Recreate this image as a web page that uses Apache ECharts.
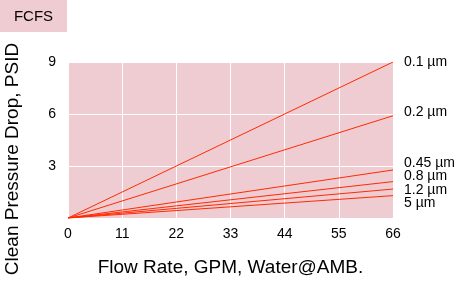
<!DOCTYPE html>
<html><head><meta charset="utf-8">
<script src="https://cdn.jsdelivr.net/npm/echarts@6/dist/echarts.min.js"></script>
<style>html,body{margin:0;padding:0;background:#fff}#c{width:459px;height:283px}</style>
</head><body><div id="c"></div>
<script>
const flowRates = [0, 66];
const seriesNames = ['0.1 µm', '0.2 µm', '0.45 µm', '0.8 µm', '1.2 µm', '5 µm'];
const s01 = [0, 9.0];
const s02 = [0, 5.9];
const s045 = [0, 2.77];
const s08 = [0, 2.1];
const s12 = [0, 1.67];
const s5 = [0, 1.29];
const xTicks = [0, 11, 22, 33, 44, 55, 66];
const yTicks = [3, 6, 9];
const allSeries = [s01, s02, s045, s08, s12, s5];
const labelShift = [0, -4, -7, -5, 1, 8];

const FONT = 'Liberation Sans';
const chart = echarts.init(document.getElementById('c'));
chart.setOption({
  animation: false,
  textStyle: {fontFamily: FONT},
  graphic: [
    {type: 'rect', x: 0, y: 0, shape: {width: 67, height: 32}, style: {fill: '#efccd1'}},
    {type: 'text', x: 33.5, y: 17,
     style: {text: 'FCFS', textAlign: 'center', textVerticalAlign: 'middle', fontSize: 15, fill: '#000', fontFamily: FONT}},
    {type: 'text', x: 13, y: 159, rotation: Math.PI / 2,
     style: {text: 'Clean Pressure Drop, PSID', textAlign: 'center', textVerticalAlign: 'middle', fontSize: 19, fill: '#000', fontFamily: FONT}}
  ],
  grid: {left: 68, right: 66, top: 62, bottom: 65, show: true, backgroundColor: '#efccd1', borderWidth: 0, outerBoundsMode: 'none', containLabel: false},
  xAxis: {
    type: 'value', min: 0, max: 66, interval: 11,
    name: 'Flow Rate, GPM, Water@AMB.', nameLocation: 'middle', nameGap: 40,
    nameTextStyle: {fontSize: 19, color: '#000', fontFamily: FONT},
    axisLine: {show: false}, axisTick: {show: false},
    axisLabel: {fontSize: 14, color: '#000', margin: 9, fontFamily: FONT,
      formatter: v => xTicks.includes(v) ? String(v) : ''},
    splitLine: {show: true, lineStyle: {color: '#ffffff', width: 1}}
  },
  yAxis: {
    type: 'value', min: 0, max: 9, interval: 3,
    axisLine: {show: false}, axisTick: {show: false},
    axisLabel: {fontSize: 14, color: '#000', margin: 12, fontFamily: FONT,
      formatter: v => yTicks.includes(v) ? String(v) : ''},
    splitLine: {show: true, lineStyle: {color: '#ffffff', width: 1}}
  },
  series: allSeries.map((vals, i) => ({
    type: 'line', name: seriesNames[i], symbol: 'none',
    data: flowRates.map((x, j) => [x, vals[j]]),
    lineStyle: {color: '#ff2a00', width: 1},
    endLabel: {show: true, formatter: seriesNames[i], color: '#000', fontSize: 14,
      fontFamily: FONT, distance: 11, offset: [0, labelShift[i]]}
  }))
});
</script></body></html>
